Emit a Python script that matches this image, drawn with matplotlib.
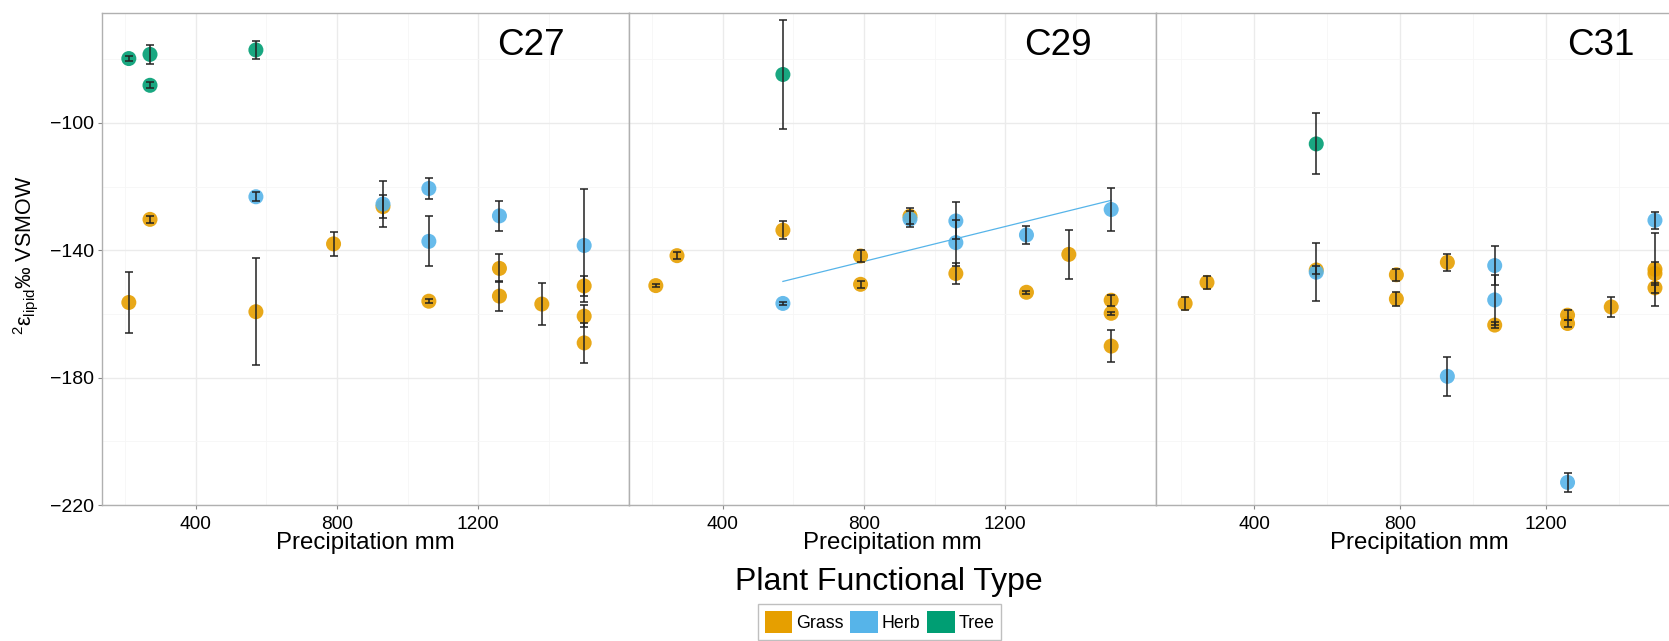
import numpy as np
import matplotlib.pyplot as plt
from matplotlib.patches import Patch

plt.rcParams['font.family'] = ['Liberation Sans', 'DejaVu Sans']
plt.rcParams['mathtext.fontset'] = 'custom'
plt.rcParams['mathtext.rm'] = 'Liberation Sans'
plt.rcParams['mathtext.it'] = 'Liberation Sans:italic'

# ---- data ----
chains = ['C27', 'C29', 'C31']
pft_names = ['Grass', 'Herb', 'Tree']
pft_colors = ['#E69F00', '#56B4E9', '#009E73']

c27_x = [210, 270, 570, 790, 930, 1060, 1260, 1260, 1380, 1500, 1500, 1500,
         570, 930, 1060, 1060, 1260, 1500,
         210, 270, 270, 570]
c27_y = [-156.4, -130.3, -159.3, -138.0, -126.3, -156.0, -145.7, -154.4, -156.9, -151.2, -160.7, -169.1,
         -123.2, -125.5, -120.6, -137.2, -129.2, -138.5,
         -79.8, -78.5, -88.2, -77.1]
c27_err = [9.6, 1.0, 16.8, 3.8, 3.6, 0.6, 4.4, 4.7, 6.6, 3.1, 3.4, 6.4,
           1.4, 7.2, 3.2, 7.9, 4.6, 17.6,
           0.8, 3.0, 1.0, 2.8]
c27_pft = ['Grass'] * 12 + ['Herb'] * 6 + ['Tree'] * 4

c29_x = [210, 270, 570, 790, 790, 930, 1060, 1260, 1380, 1500, 1500, 1500,
         570, 930, 1060, 1060, 1260, 1500,
         570]
c29_y = [-151.1, -141.7, -133.7, -141.8, -150.7, -129.3, -147.3, -153.2, -141.3, -155.7, -159.8, -170.1,
         -156.7, -130.2, -130.8, -137.6, -135.2, -127.2,
         -84.8]
c29_err = [0.5, 1.0, 2.8, 2.0, 1.0, 2.5, 3.3, 0.5, 7.8, 1.8, 0.5, 5.0,
           0.5, 2.5, 5.8, 7.2, 2.7, 6.6,
           17.2]
c29_pft = ['Grass'] * 12 + ['Herb'] * 6 + ['Tree']

c31_x = [210, 270, 570, 790, 790, 930, 1060, 1260, 1260, 1380, 1500, 1500, 1500,
         570, 930, 1060, 1060, 1260, 1500,
         570]
c31_y = [-156.7, -150.1, -146.2, -147.7, -155.3, -143.8, -163.5, -160.4, -163.0, -157.8, -146.0, -147.3, -151.8,
         -146.9, -179.6, -144.8, -155.6, -212.9, -130.6,
         -106.6]
c31_err = [2.0, 2.0, 1.4, 1.8, 2.3, 2.6, 1.0, 1.6, 1.2, 3.1, 11.4, 3.7, 1.6,
           9.1, 6.1, 6.1, 7.9, 3.0, 2.6,
           9.6]
c31_pft = ['Grass'] * 13 + ['Herb'] * 6 + ['Tree']

panels = [(c27_x, c27_y, c27_err, c27_pft),
          (c29_x, c29_y, c29_err, c29_pft),
          (c31_x, c31_y, c31_err, c31_pft)]

# ---- layout (pixels) ----
W, H = 1669, 641
fig = plt.figure(figsize=(W / 100, H / 100), dpi=100)
lefts = [102, 629, 1156]
pw = 527
top, bot = 12.7, 505
xlims = [(134, 1627), (134, 1627), (130, 1577)]

for i, (name, (px, py, pe, pp)) in enumerate(zip(chains, panels)):
    ax = fig.add_axes([lefts[i] / W, (H - bot) / H, pw / W, (bot - top) / H])
    px, py, pe, pp = np.array(px), np.array(py), np.array(pe), np.array(pp)

    for nm, col in zip(pft_names, pft_colors):
        m = pp == nm
        ax.scatter(px[m], py[m], s=117, color=col, alpha=0.9, edgecolors='none', zorder=3)

    # linear fit for herbs in C29
    if name == 'C29':
        m = pp == 'Herb'
        coef = np.polyfit(px[m], py[m], 1)
        xs = np.array([px[m].min(), px[m].max()])
        ax.plot(xs, np.polyval(coef, xs), color=pft_colors[1], lw=0.9, zorder=2)

    ax.errorbar(px, py, yerr=pe, fmt='none', ecolor='#222222', elinewidth=1.1,
                capsize=3.1, capthick=1.1, zorder=4)

    ax.set_xlim(*xlims[i])
    ax.set_ylim(-220, -65.4)
    ax.set_xticks([400, 800, 1200])
    ax.set_xticks([200, 600, 1000, 1400], minor=True)
    ax.set_yticks([-220, -180, -140, -100])
    ax.set_yticks([-200, -160, -120, -80], minor=True)
    ax.grid(which='major', color='#ebebeb', lw=1.0)
    ax.grid(which='minor', color='#f6f6f6', lw=0.6)
    ax.set_axisbelow(True)
    ax.tick_params(which='minor', length=0)
    ax.tick_params(axis='x', which='major', length=3, color='#888888', labelsize=13.8, pad=5)
    ax.tick_params(axis='y', which='major', length=3, color='#888888', labelsize=14, pad=3)
    if i > 0:
        ax.tick_params(axis='y', left=False, labelleft=False)
    for s in ax.spines.values():
        s.set_color('#b0b0b0')
        s.set_linewidth(1.0)

    ax.text(1350, -75.6, name, ha='center', va='center', fontsize=26.5)
    ax.set_xlabel('Precipitation mm', fontsize=17.3, labelpad=-1)

fig.text(26 / W, 1 - 255 / H, '$^{2}$ε$_{\\mathrm{lipid}}$‰ VSMOW',
         rotation=90, ha='center', va='center', fontsize=15.5)

fig.text(889 / W, 1 - 581.7 / H, 'Plant Functional Type', ha='center', va='center', fontsize=23)

handles = [Patch(facecolor=c, edgecolor='none', label=n) for n, c in zip(pft_names, pft_colors)]
leg = fig.legend(handles=handles, loc='upper center', bbox_to_anchor=(879.5 / W, 1 - 604 / H),
                 ncol=3, fontsize=12.8, frameon=True, fancybox=False, borderaxespad=0,
                 handlelength=1.55, handleheight=1.55, handletextpad=0.2,
                 columnspacing=0.4, borderpad=0.4)
leg.get_frame().set_edgecolor('#b0b0b0')
leg.get_frame().set_linewidth(1.0)

fig.savefig('out.png', dpi=100)
